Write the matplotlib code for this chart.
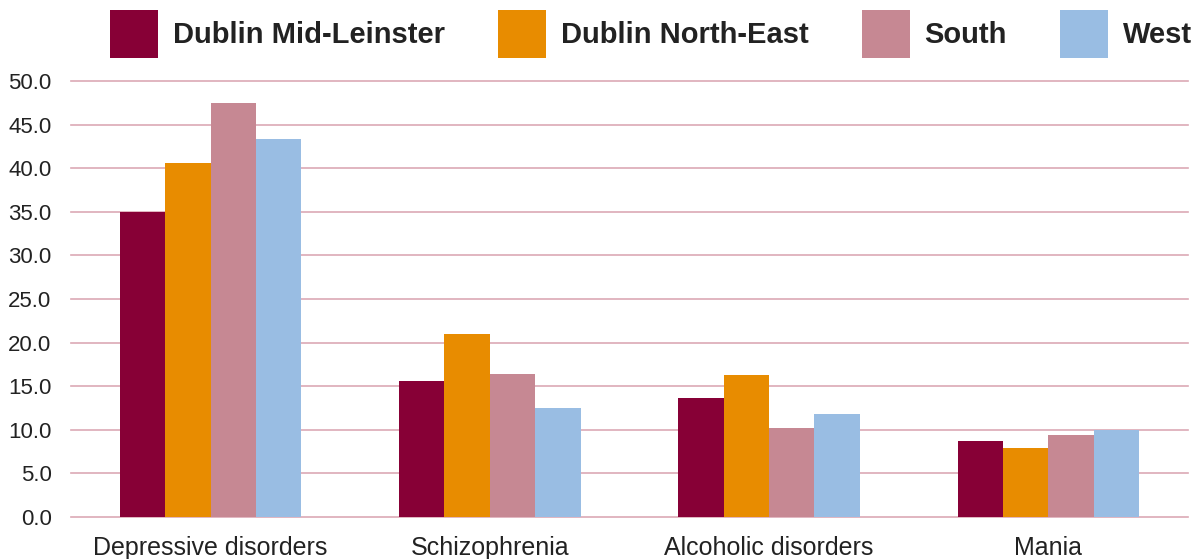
import numpy as np
import matplotlib
matplotlib.use("Agg")
import matplotlib.pyplot as plt

# Values
categories = ["Depressive disorders", "Schizophrenia", "Alcoholic disorders", "Mania"]
regions = ["Dublin Mid-Leinster", "Dublin North-East", "South", "West"]
dublin_mid_leinster = [35.0, 15.6, 13.6, 8.7]
dublin_north_east = [40.6, 21.0, 16.3, 7.9]
south = [47.5, 16.4, 10.2, 9.4]
west = [43.3, 12.5, 11.8, 10.0]
y_ticks = [0, 5, 10, 15, 20, 25, 30, 35, 40, 45, 50]

colors = ["#870036", "#e88c00", "#c68893", "#99bde3"]
text_color = "#222222"
grid_color = "#dba9b5"

plt.rcParams["font.family"] = ["Liberation Sans", "DejaVu Sans"]

fig = plt.figure(figsize=(11.99, 5.59), dpi=100)
ax = fig.add_axes([0.0592, 0.0751, 0.9316, 0.7800])

series = [dublin_mid_leinster, dublin_north_east, south, west]
x = np.arange(len(categories))
bar_w = 0.1625
for i, (name, vals) in enumerate(zip(regions, series)):
    offset = (i - 1.5) * bar_w
    ax.bar(x + offset, vals, width=bar_w, color=colors[i], label=name,
           zorder=3, linewidth=0)

ax.set_xlim(-0.5, len(categories) - 0.5)
ax.set_ylim(0, 50)
ax.set_yticks(y_ticks)
ax.set_yticklabels([f"{v:.1f}" for v in y_ticks])
ax.set_xticks(x)
ax.set_xticklabels(categories)

ax.grid(axis="y", color=grid_color, linewidth=1.2, zorder=0)
for gl in ax.get_ygridlines():
    gl.set_clip_on(False)
ax.set_axisbelow(True)
for side in ["top", "right", "left", "bottom"]:
    ax.spines[side].set_visible(False)

ax.tick_params(axis="y", length=0, pad=14, labelsize=16, labelcolor=text_color)
ax.tick_params(axis="x", length=0, pad=14, labelsize=18, labelcolor=text_color)

leg = ax.legend(loc="lower left", bbox_to_anchor=(0.0349, 1.052), ncol=4,
                frameon=False, handlelength=1.646, handleheight=2.155,
                handletextpad=0.51, columnspacing=1.82, borderaxespad=0,
                borderpad=0, prop={"weight": "bold", "size": 21})
for t in leg.get_texts():
    t.set_color(text_color)

fig.savefig("out.png", dpi=100)
